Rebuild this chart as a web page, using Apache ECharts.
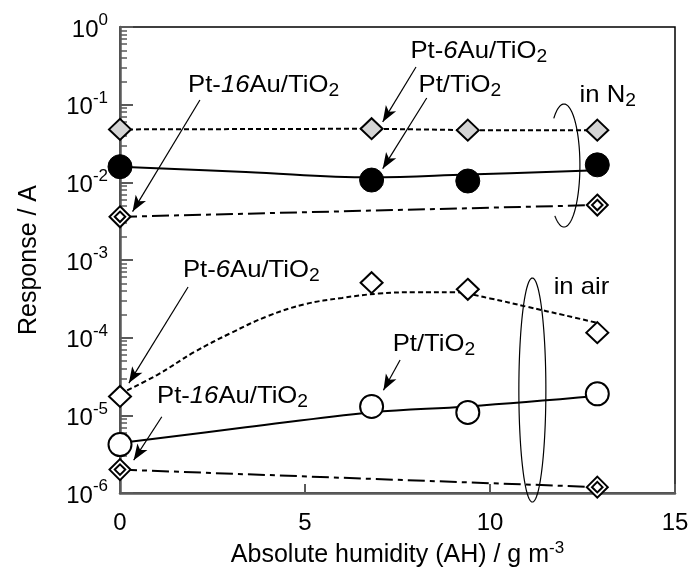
<!DOCTYPE html>
<html>
<head>
<meta charset="utf-8">
<script src="https://cdn.jsdelivr.net/npm/echarts@6/dist/echarts.min.js"></script>
<style>
  html, body { margin: 0; padding: 0; background: #fff; }
  #chart { width: 695px; height: 578px; }
</style>
</head>
<body>
<div id="chart"></div>
<script>
// Absolute humidity (g m^-3) at which the sensors were measured
const ah = [0, 6.8, 9.4, 12.9];
const ahEnds = [0, 12.9];

// Responses in N2
const n2Pt6Au = [0.048, 0.049, 0.047, 0.047];
const n2Pt = [0.0159, 0.0107, 0.0104, 0.0168];
const n2Pt16Au = [0.0036, 0.0051];

// Responses in air
const airPt6Au = [1.75e-5, 5.1e-4, 4.2e-4, 1.16e-4];
const airPt = [4.2e-6, 1.3e-5, 1.09e-5, 1.89e-5];
const airPt16Au = [2.0e-6, 1.19e-6];

// Guide curves drawn through the measured trends
const n2PtTrendAH = [0, 3.4, 6.8, 9.4, 12.9];
const n2PtTrend = [0.0159, 0.0136, 0.0116, 0.0126, 0.0143];
const airPtTrendAH = [0, 3.4, 6.8, 9.4, 12.9];
const airPtTrend = [4.4e-6, 7.0e-6, 1.09e-5, 1.3e-5, 1.77e-5];
const airPt6AuTrendAH = [0, 1, 2, 3, 4, 5, 6, 7, 8, 9, 10, 11, 12, 12.9];
const airPt6AuTrend = [1.9e-5, 3.3e-5, 6.5e-5, 1.15e-4, 1.9e-4, 2.7e-4, 3.25e-4,
                       3.7e-4, 3.85e-4, 3.85e-4, 3.2e-4, 2.5e-4, 1.95e-4, 1.55e-4];

// Axis ranges
const xTicks = [0, 5, 10, 15];
const yMin = 1e-6, yMax = 1;

// Callout labels: text, anchor [AH, response]
const labelTexts = [
  'Pt-{i|6}Au/TiO{sub|2}',
  'Pt/TiO{sub|2}',
  'in N{sub|2}',
  'Pt-{i|16}Au/TiO{sub|2}',
  'Pt-{i|6}Au/TiO{sub|2}',
  'Pt/TiO{sub|2}',
  'Pt-{i|16}Au/TiO{sub|2}',
  'in air'
];
const labelAnchors = [
  [7.85, 0.491], [8.07, 0.179], [12.42, 0.133], [1.84, 0.179],
  [1.70, 7.44e-4], [7.37, 8.29e-5], [1.0, 1.77e-5], [11.72, 4.49e-4]
];

// Callout arrows: [from, to]
const arrows = [
  [[8.0, 0.305], [7.1, 0.060]],
  [[8.29, 0.122], [7.1, 0.0150]],
  [[2.16, 0.1148], [0.34, 0.0042]],
  [[1.84, 4.49e-4], [0.24, 2.6e-5]],
  [[7.57, 5.16e-5], [7.12, 2.1e-5]],
  [[1.13, 9.6e-6], [0.37, 2.65e-6]]
];

// Grouping ellipses: left/right AH, top/bottom response, visible angle range (deg)
const groupN2 = { x: [11.57, 12.43], y: [0.102, 0.00266], from: -130, to: 125 };
const groupAir = { x: [10.78, 11.51], y: [5.86e-4, 7.66e-7], from: -180, to: 180 };

const FONT = '"Liberation Sans", Arial, Helvetica, sans-serif';
const AXIS_GREY = '#5a5a5a';

const pairs = (xs, ys) => xs.map((x, i) => [x, ys[i]]);
const DOUBLE_DIAMOND = 'path://M10,0L20,10L10,20L0,10Z M10,5L15,10L10,15L5,10Z';
const DOTTED = [5, 3];
const DASH_DOT = [17, 5, 5, 5];

const chart = echarts.init(document.getElementById('chart'), null, { renderer: 'canvas' });

const option = {
  animation: false,
  backgroundColor: '#fff',
  grid: {
    left: 120, right: 20, top: 27, bottom: 85,
    show: true, borderColor: '#000', borderWidth: 1.5, backgroundColor: 'transparent'
  },
  xAxis: {
    type: 'value',
    min: xTicks[0], max: xTicks[xTicks.length - 1], interval: 5,
    name: 'Absolute humidity (AH) / g m{s|-3}',
    nameLocation: 'middle',
    nameGap: 47,
    nameTextStyle: {
      color: '#000', fontSize: 25, fontFamily: FONT, lineHeight: 30, verticalAlign: 'top',
      rich: {
        s: { fontSize: 17, lineHeight: 17, verticalAlign: 'top', fontFamily: FONT, color: '#000' }
      }
    },
    axisLine: { show: true, lineStyle: { color: AXIS_GREY, width: 2.5 } },
    axisTick: { show: true, inside: true, length: 9, lineStyle: { color: AXIS_GREY, width: 2 } },
    axisLabel: { color: '#000', fontSize: 24, fontFamily: FONT, margin: 18 },
    splitLine: { show: false }
  },
  yAxis: {
    type: 'log',
    logBase: 10,
    min: yMin, max: yMax,
    name: 'Response / A',
    nameLocation: 'middle',
    nameGap: 78,
    nameTextStyle: { color: '#000', fontSize: 25, fontFamily: FONT },
    axisLine: { show: true, lineStyle: { color: AXIS_GREY, width: 2.5 } },
    axisTick: { show: true, inside: true, length: 13, lineStyle: { color: AXIS_GREY, width: 2 } },
    minorTick: { show: true, splitNumber: 9, length: 7, lineStyle: { color: AXIS_GREY, width: 1.5 } },
    minorSplitLine: { show: false },
    splitLine: { show: false },
    axisLabel: {
      margin: 12,
      formatter: (v) => '{b|10}{s|' + Math.round(Math.log10(v)) + '}',
      rich: {
        b: { fontSize: 24, lineHeight: 30, verticalAlign: 'bottom', fontFamily: FONT, color: '#000' },
        s: { fontSize: 17, lineHeight: 17, verticalAlign: 'top', fontFamily: FONT, color: '#000' }
      }
    }
  },
  series: [
    // guide curves
    {
      type: 'line', data: pairs(n2PtTrendAH, n2PtTrend), smooth: 0.4, symbol: 'none',
      lineStyle: { color: '#000', width: 2 }, z: 2, silent: true
    },
    {
      type: 'line', data: pairs(airPtTrendAH, airPtTrend), smooth: 0.4, symbol: 'none',
      lineStyle: { color: '#000', width: 2 }, z: 2, silent: true
    },
    {
      type: 'line', data: pairs(airPt6AuTrendAH, airPt6AuTrend), smooth: 0.4, symbol: 'none',
      lineStyle: { color: '#000', width: 2, type: DOTTED }, z: 2, silent: true
    },
    // N2
    {
      name: 'Pt-6Au/TiO2 (N2)', type: 'line', data: pairs(ah, n2Pt6Au),
      showSymbol: true, symbol: 'diamond', symbolSize: [22, 21],
      itemStyle: { color: '#d4d4d4', borderColor: '#000', borderWidth: 2 },
      lineStyle: { color: '#000', width: 2, type: DOTTED }, z: 3
    },
    {
      name: 'Pt/TiO2 (N2)', type: 'scatter', data: pairs(ah, n2Pt),
      symbol: 'circle', symbolSize: 24,
      itemStyle: { color: '#000', borderColor: '#000', borderWidth: 1, opacity: 1 }, z: 4
    },
    {
      name: 'Pt-16Au/TiO2 (N2)', type: 'line', data: pairs(ahEnds, n2Pt16Au),
      showSymbol: true, symbol: DOUBLE_DIAMOND, symbolSize: [21, 21],
      itemStyle: { color: '#fff', borderColor: '#000', borderWidth: 2 },
      lineStyle: { color: '#000', width: 2, type: DASH_DOT }, z: 3
    },
    // air
    {
      name: 'Pt-6Au/TiO2 (air)', type: 'scatter', data: pairs(ah, airPt6Au),
      symbol: 'diamond', symbolSize: [22, 21],
      itemStyle: { color: '#fff', borderColor: '#000', borderWidth: 2, opacity: 1 }, z: 4
    },
    {
      name: 'Pt/TiO2 (air)', type: 'scatter', data: pairs(ah, airPt),
      symbol: 'circle', symbolSize: 23,
      itemStyle: { color: '#fff', borderColor: '#000', borderWidth: 2, opacity: 1 }, z: 4
    },
    {
      name: 'Pt-16Au/TiO2 (air)', type: 'line', data: pairs(ahEnds, airPt16Au),
      showSymbol: true, symbol: DOUBLE_DIAMOND, symbolSize: [21, 21],
      itemStyle: { color: '#fff', borderColor: '#000', borderWidth: 2 },
      lineStyle: { color: '#000', width: 2, type: DASH_DOT }, z: 3
    },
    // callout arrows
    {
      type: 'line', data: [], silent: true, z: 5,
      markLine: {
        silent: true,
        animation: false,
        label: { show: false },
        lineStyle: { color: '#000', width: 1.2, type: 'solid' },
        emphasis: { disabled: true },
        data: arrows.map(([a, b]) => [
          { coord: a, symbol: 'none' },
          { coord: b, symbol: 'arrow', symbolSize: [9, 16] }
        ])
      }
    }
  ]
};

chart.setOption(option);

// Callout texts and grouping ellipses, placed in data space
function toPx(p) { return chart.convertToPixel({ gridIndex: 0 }, p); }

function ellipsePoints(g) {
  const l = toPx([g.x[0], g.y[0]]), r = toPx([g.x[1], g.y[1]]);
  const cx = (l[0] + r[0]) / 2, cy = (l[1] + r[1]) / 2;
  const rx = Math.abs(r[0] - l[0]) / 2, ry = Math.abs(r[1] - l[1]) / 2;
  const pts = [];
  const n = 120;
  for (let k = 0; k <= n; k++) {
    const t = (g.from + (g.to - g.from) * k / n) * Math.PI / 180;
    pts.push([cx + rx * Math.cos(t), cy + ry * Math.sin(t)]);
  }
  return pts;
}

const textRich = {
  i: { fontStyle: 'italic', fontSize: 24, lineHeight: 30, fontFamily: FONT, fill: '#000' },
  sub: { fontSize: 18, lineHeight: 14, verticalAlign: 'bottom', fontFamily: FONT, fill: '#000' }
};

const graphics = labelTexts.map((t, k) => {
  const p = toPx(labelAnchors[k]);
  return {
    type: 'text', x: p[0], y: p[1], scaleX: 1.07, z: 10, silent: true,
    style: {
      text: t, fill: '#000', fontSize: 24, fontFamily: FONT, lineHeight: 30,
      align: 'left', verticalAlign: 'middle', rich: textRich
    }
  };
});

[groupN2, groupAir].forEach((g) => {
  graphics.push({
    type: 'polyline', z: 9, silent: true,
    shape: { points: ellipsePoints(g) },
    style: { stroke: '#000', lineWidth: 1.2, fill: null }
  });
});

chart.setOption({ graphic: graphics });
</script>
</body>
</html>
